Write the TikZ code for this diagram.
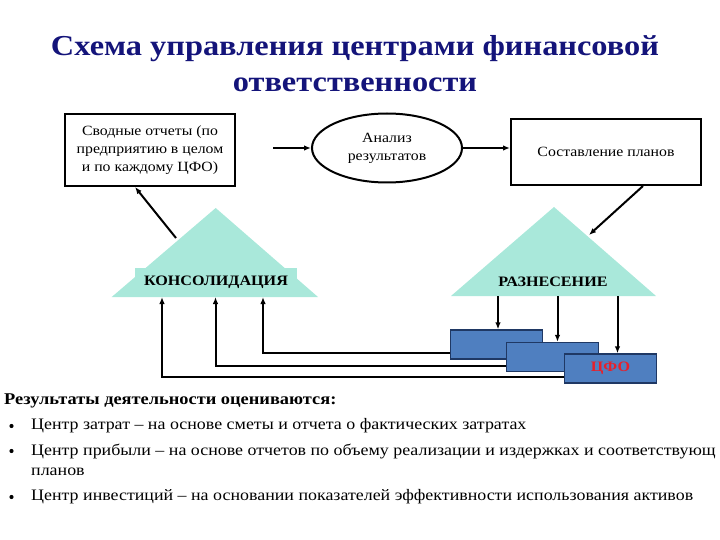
\documentclass[tikz,border=0pt]{standalone}
\usepackage{fontspec}
\setmainfont{Liberation Serif}
\newfontfamily\tnr[FakeStretch=1.12]{Liberation Serif}
\usepackage{tikz}
\usetikzlibrary{shapes.geometric,arrows.meta}

\definecolor{tealfill}{HTML}{A9E8DA}
\definecolor{cfoblue}{HTML}{4F7FC0}
\definecolor{cfoedge}{HTML}{1F3864}
\definecolor{titleblue}{HTML}{14147A}
\definecolor{cfored}{HTML}{E8202A}

\tikzset{
  box/.style={draw, line width=2pt, align=center, font=\tnr\fontsize{14.1}{18}\selectfont},
  arr/.style={-{Latex[length=7pt,width=5.5pt]}, line width=2pt},
  cfo/.style={draw=cfoedge, line width=1.3pt, fill=cfoblue, minimum width=92pt, minimum height=29pt},
  lbl/.style={font=\tnr\fontsize{14.4}{16}\selectfont\bfseries},
  item/.style={anchor=west, inner sep=0pt, font=\tnr\fontsize{16}{20}\selectfont}
}

\begin{document}
\begin{tikzpicture}[x=1pt, y=-1pt]
    \useasboundingbox (0,0) rectangle (720,540);
    \node[font=\tnr\fontsize{28.9}{36}\selectfont\bfseries, text=titleblue, align=center] (title) at (355,64) {Схема управления центрами финансовой\\ответственности};

    % top row
    \node[box, minimum width=170pt, minimum height=72pt] (sumrep) at (150,150) {Сводные отчеты (по\\предприятию в целом\\и по каждому ЦФО)};
    \node[box, ellipse, minimum width=150pt, minimum height=69pt] (analysis) at (387,148) {Анализ\\результатов};
    \node[box, minimum width=190pt, minimum height=66pt] (plans) at (606,152) {Составление планов};

    % triangles
    \fill[tealfill] (111.7,297) -- (215.7,208) -- (318,297) -- cycle;
    \fill[tealfill] (451,296) -- (554,207) -- (656,296) -- cycle;
    \node[lbl, fill=tealfill, minimum width=162pt, minimum height=29pt, inner sep=0pt] (cons) at (216,282.5) {КОНСОЛИДАЦИЯ};
    \node[lbl] (distr) at (553,282) {РАЗНЕСЕНИЕ};
    \coordinate (consedge) at (176,238);
    \coordinate (distredge) at (589,235);
    \foreach \n/\x in {1/162,2/215.5,3/263} \coordinate (cin\n) at (\x,297);
    \foreach \n/\x in {1/498,2/557.5,3/617.5} \coordinate (dout\n) at (\x,296);

    \draw[arr] (analysis.west -| 273,0) -- (analysis.west);
    \draw[arr] (analysis.east) -- (plans.west |- analysis.east);
    \draw[arr] (consedge) -- ([xshift=-15pt]sumrep.south);
    \draw[arr] ([xshift=37pt]plans.south) -- (distredge);

    % responsibility centres
    \node[cfo] (cfoA) at (496.5,344.5) {};
    \node[cfo] (cfoB) at (552.5,357) {};
    \node[cfo, text=cfored, font=\tnr\fontsize{14.4}{16}\selectfont\bfseries] (cfoC) at (610.5,368.5) {ЦФО};

    \draw[arr] ([yshift=-8.5pt]cfoA.west) -| (cin3);
    \draw[arr] ([yshift=-8.5pt]cfoB.west) -| (cin2);
    \draw[arr] ([yshift=-8.5pt]cfoC.west) -| (cin1);
    \draw[arr] (dout1) -- (dout1 |- cfoA.north);
    \draw[arr] (dout2) -- (dout2 |- cfoB.north);
    \draw[arr] (dout3) -- (dout3 |- cfoC.north);

    % evaluation text
    \node[item, font=\tnr\fontsize{16.4}{20}\selectfont\bfseries] (res) at (4,401) {Результаты деятельности оцениваются:};
    \node[item] (it1) at (31,426) {Центр затрат – на основе сметы и отчета о фактических затратах};
    \node[item] (it2) at (31,451) {Центр прибыли – на основе отчетов по объему реализации и издержках и соответствующ};
    \node[item] (it3) at (31,472) {планов};
    \node[item] (it4) at (31,497) {Центр инвестиций – на основании показателей эффективности использования активов};
    \foreach \n in {it1,it2,it4} \fill ([xshift=-19.5pt]\n.west) circle (2.1pt);
\end{tikzpicture}
\end{document}
